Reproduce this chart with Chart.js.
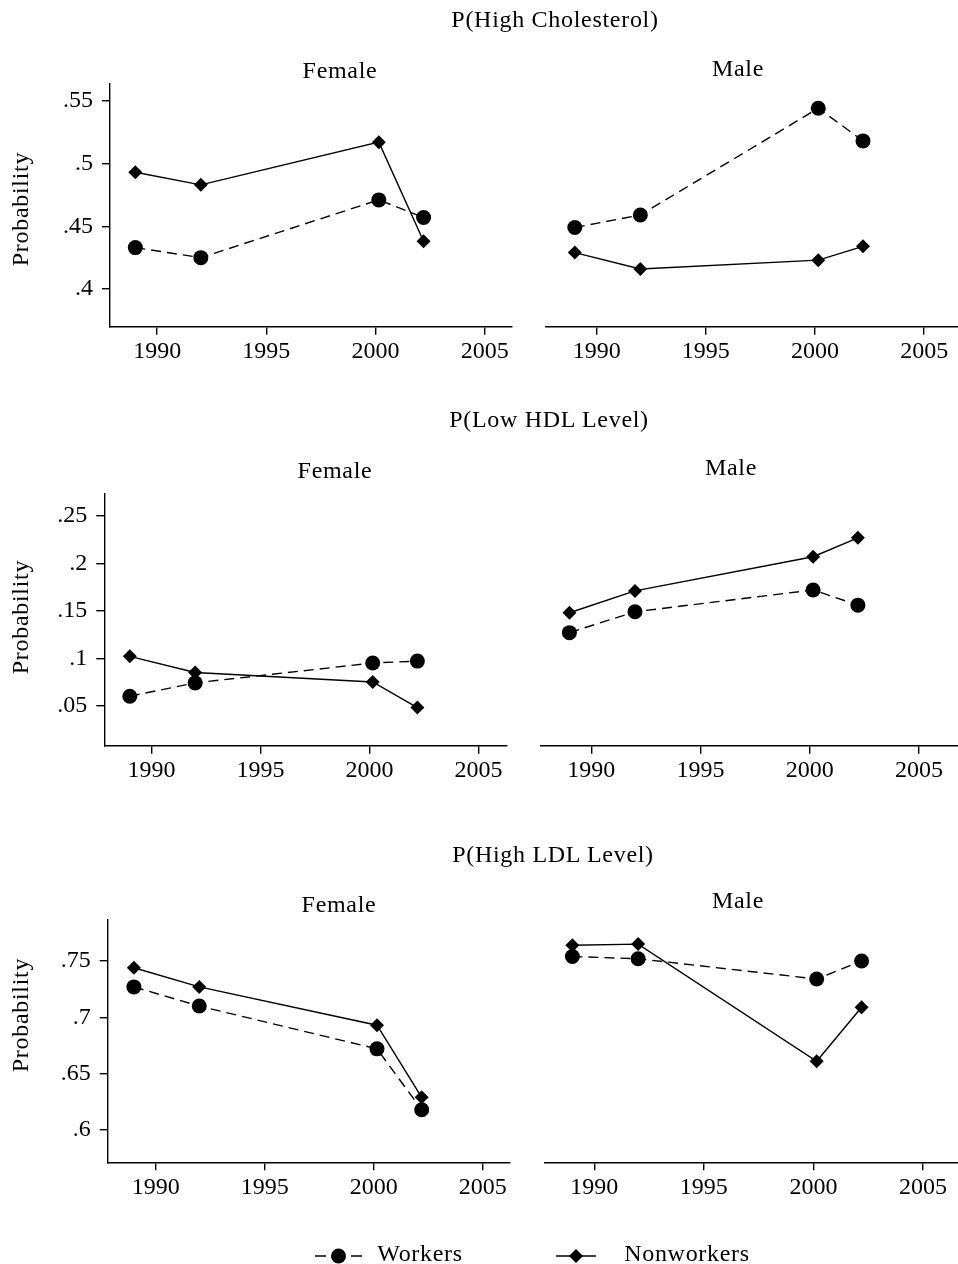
<!DOCTYPE html>
<html>
<head>
<meta charset="utf-8">
<script src="https://cdn.jsdelivr.net/npm/chart.js@4"></script>
<style>
  body { margin: 0; background: #fff; }
  #wrap { position: relative; width: 958px; height: 1264px; overflow: hidden; background: #fff; }
  #wrap canvas { position: absolute; left: 0; top: 0; }
  .txt {
    position: absolute;
    font-family: 'Liberation Serif', 'Times New Roman', serif;
    font-size: 24px;
    line-height: 24px;
    letter-spacing: 0.7px;
    color: #000;
    white-space: nowrap;
    transform: translateX(-50%);
  }
  .ytitle { transform: translate(-50%, -50%) rotate(-90deg); }
</style>
</head>
<body>
<div id="wrap"></div>
<script>
// --- data ---
const years = [1989, 1992, 2000.15, 2002.2];
const xTicks = [1990, 1995, 2000, 2005];

const cholFemaleWorkers = [0.433, 0.425, 0.471, 0.457];
const cholFemaleNonworkers = [0.493, 0.483, 0.517, 0.438];
const cholMaleWorkers = [0.449, 0.459, 0.544, 0.518];
const cholMaleNonworkers = [0.429, 0.416, 0.423, 0.434];

const hdlFemaleWorkers = [0.060, 0.074, 0.095, 0.097];
const hdlFemaleNonworkers = [0.102, 0.085, 0.075, 0.048];
const hdlMaleWorkers = [0.127, 0.149, 0.172, 0.156];
const hdlMaleNonworkers = [0.148, 0.171, 0.207, 0.227];

const ldlFemaleWorkers = [0.727, 0.710, 0.672, 0.618];
const ldlFemaleNonworkers = [0.744, 0.727, 0.693, 0.629];
const ldlMaleWorkers = [0.754, 0.752, 0.734, 0.750];
const ldlMaleNonworkers = [0.764, 0.765, 0.661, 0.709];

const yTicksChol = [0.4, 0.45, 0.5, 0.55];
const yLabelsChol = ['.4', '.45', '.5', '.55'];
const yTicksHdl = [0.05, 0.1, 0.15, 0.2, 0.25];
const yLabelsHdl = ['.05', '.1', '.15', '.2', '.25'];
const yTicksLdl = [0.6, 0.65, 0.7, 0.75];
const yLabelsLdl = ['.6', '.65', '.7', '.75'];

const rowTitles = ['P(High Cholesterol)', 'P(Low HDL Level)', 'P(High LDL Level)'];
const panelTitles = ['Female', 'Male'];
const seriesNames = ['Workers', 'Nonworkers'];

// --- page geometry ---
const W = 958, H = 1264;
const CW = 1000; // canvases run past the right edge, the page clips them
const X_AXIS_H = 50;
const FONT = "'Liberation Serif', 'Times New Roman', serif";
const wrap = document.getElementById('wrap');

// each row: plot box of left and right panel, value ranges
const rows = [
  { top: 84, bottom: 326.7, yMin: 0.37, yMax: 0.5633, yTicks: yTicksChol, yLabels: yLabelsChol,
    left: [110, 512], right: [546, 958], xMinL: 1987.84, xMaxL: 2006.25, xMinR: 1987.68, xMaxR: 2006.55,
    data: [[cholFemaleWorkers, cholFemaleNonworkers], [cholMaleWorkers, cholMaleNonworkers]] },
  { top: 493.3, bottom: 745.7, yMin: 0.0078, yMax: 0.2739, yTicks: yTicksHdl, yLabels: yLabelsHdl,
    left: [104.3, 506.7], right: [541, 958], xMinL: 1987.83, xMaxL: 2006.3, xMinR: 1987.7, xMaxR: 2006.78,
    data: [[hdlFemaleWorkers, hdlFemaleNonworkers], [hdlMaleWorkers, hdlMaleNonworkers]] },
  { top: 920, bottom: 1162.3, yMin: 0.5713, yMax: 0.7864, yTicks: yTicksLdl, yLabels: yLabelsLdl,
    left: [107.7, 510], right: [545, 958], xMinL: 1987.8, xMaxL: 2006.25, xMinR: 1987.75, xMaxR: 2006.6,
    data: [[ldlFemaleWorkers, ldlFemaleNonworkers], [ldlMaleWorkers, ldlMaleNonworkers]] }
];

function toPoints(vals) {
  return years.map(function (x, i) { return { x: x, y: vals[i] }; });
}

function makePanel(row, side) {
  const canvas = document.createElement('canvas');
  canvas.width = CW;
  canvas.height = H;
  wrap.appendChild(canvas);

  const showY = side === 0;
  const box = showY ? row.left : row.right;
  const series = row.data[side];

  new Chart(canvas, {
    type: 'line',
    data: {
      datasets: [
        {
          label: seriesNames[0],
          data: toPoints(series[0]),
          borderColor: '#000',
          borderWidth: 1.4,
          borderDash: [10, 6],
          pointStyle: 'circle',
          pointRadius: 7.5,
          pointBackgroundColor: '#000',
          pointBorderWidth: 0,
          fill: false,
          tension: 0
        },
        {
          label: seriesNames[1],
          data: toPoints(series[1]),
          borderColor: '#000',
          borderWidth: 1.4,
          pointStyle: 'rectRot',
          pointRadius: 7,
          pointBackgroundColor: '#000',
          pointBorderWidth: 0,
          fill: false,
          tension: 0
        }
      ]
    },
    options: {
      responsive: false,
      animation: false,
      events: [],
      layout: {
        padding: {
          left: showY ? 0 : box[0],
          top: row.top,
          right: CW - box[1],
          bottom: H - row.bottom - X_AXIS_H
        }
      },
      plugins: {
        legend: { display: false },
        tooltip: { enabled: false }
      },
      scales: {
        x: {
          type: 'linear',
          min: showY ? row.xMinL : row.xMinR,
          max: showY ? row.xMaxL : row.xMaxR,
          afterBuildTicks: function (s) { s.ticks = xTicks.map(function (v) { return { value: v }; }); },
          afterFit: function (s) {
            s.height = X_AXIS_H;
            // no extra room for end labels, the plot box is fixed
            s.paddingLeft = 0;
            s.paddingRight = 0;
          },
          grid: { drawOnChartArea: false, tickLength: 8, color: '#000', lineWidth: 1.4 },
          border: { display: true, color: '#000', width: 1.4 },
          ticks: {
            color: '#000',
            font: { family: FONT, size: 24 },
            padding: 3,
            maxRotation: 0,
            autoSkip: false,
            callback: function (v) { return String(v); }
          }
        },
        y: {
          type: 'linear',
          display: showY,
          min: row.yMin,
          max: row.yMax,
          afterBuildTicks: function (s) { s.ticks = row.yTicks.map(function (v) { return { value: v }; }); },
          // only the left panel keeps a y axis; the right one shares its scale
          afterFit: function (s) {
            s.width = showY ? box[0] : 0;
            s.paddingTop = 0;
            s.paddingBottom = 0;
          },
          grid: { drawOnChartArea: false, tickLength: 8, color: '#000', lineWidth: 1.4 },
          border: { display: true, color: '#000', width: 1.4 },
          ticks: {
            color: '#000',
            font: { family: FONT, size: 24 },
            padding: 9,
            autoSkip: false,
            callback: function (v) {
              const i = row.yTicks.indexOf(v);
              return i >= 0 ? row.yLabels[i] : '';
            }
          }
        }
      }
    }
  });
}

rows.forEach(function (row) {
  makePanel(row, 0);
  makePanel(row, 1);
});

// --- text: row titles, panel titles, y titles (cx, baseline) ---
function addText(str, cx, baseline, cls) {
  const d = document.createElement('div');
  d.className = 'txt' + (cls ? ' ' + cls : '');
  d.textContent = str;
  d.style.left = cx + 'px';
  d.style.top = (baseline - 20) + 'px';
  wrap.appendChild(d);
  return d;
}

const rowTitlePos = [[555, 27], [549, 427], [553, 862]];
const femalePos = [[340, 78], [335, 478], [339, 912]];
const malePos = [[738, 76], [731, 475], [738, 908]];
const yTitleCenter = [209, 617, 1015];

rowTitles.forEach(function (t, i) {
  addText(t, rowTitlePos[i][0], rowTitlePos[i][1]);
  addText(panelTitles[0], femalePos[i][0], femalePos[i][1]);
  addText(panelTitles[1], malePos[i][0], malePos[i][1]);
  const yt = addText('Probability', 20, 0, 'ytitle');
  yt.style.top = yTitleCenter[i] + 'px';
});

// --- legend at the bottom ---
const legCanvas = document.createElement('canvas');
legCanvas.width = W;
legCanvas.height = H;
wrap.appendChild(legCanvas);
const g = legCanvas.getContext('2d');
const legY = 1256;
g.strokeStyle = '#000';
g.fillStyle = '#000';
g.lineWidth = 1.4;
// workers: dash, dot, dash
g.beginPath();
g.moveTo(315, legY); g.lineTo(326, legY);
g.moveTo(351, legY); g.lineTo(362, legY);
g.stroke();
g.beginPath();
g.arc(338.5, legY, 7.5, 0, Math.PI * 2);
g.fill();
// nonworkers: line with diamond
g.beginPath();
g.moveTo(556, legY); g.lineTo(596, legY);
g.stroke();
g.beginPath();
g.moveTo(576 - 7, legY); g.lineTo(576, legY - 7);
g.lineTo(576 + 7, legY); g.lineTo(576, legY + 7);
g.closePath();
g.fill();

addText(seriesNames[0], 420, 1261);
addText(seriesNames[1], 687, 1261);
</script>
</body>
</html>
